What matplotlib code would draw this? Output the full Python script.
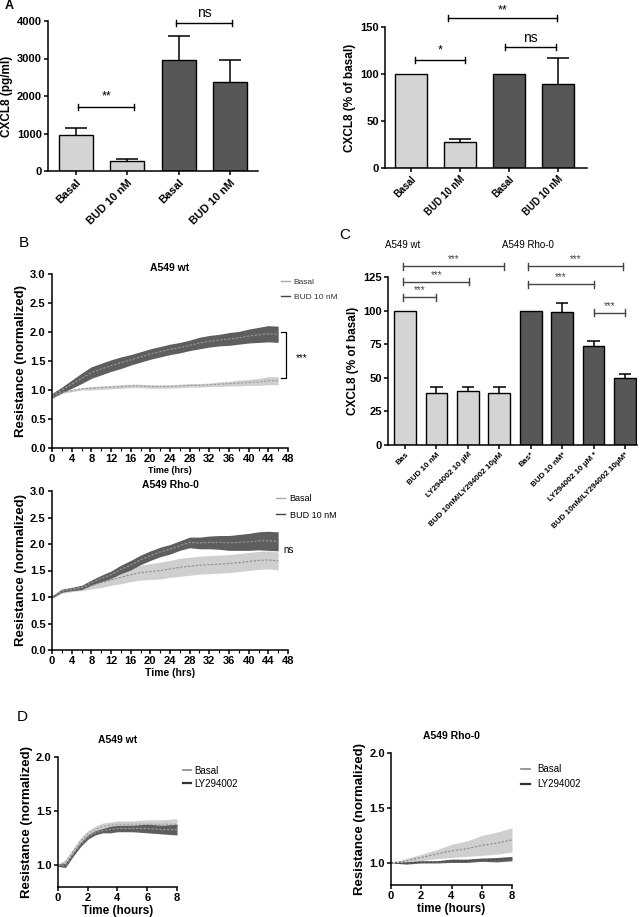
import numpy as np
import matplotlib
matplotlib.use("Agg")
import matplotlib.pyplot as plt
from matplotlib.lines import Line2D

plt.rcParams['font.family'] = ['Liberation Sans', 'DejaVu Sans']

# ---------------- DATA ----------------
# Panel A (left): CXCL8 pg/ml
a1_labels = ["Basal", "BUD 10 nM", "Basal", "BUD 10 nM"]
a1_values = [950, 270, 2950, 2380]
a1_err = [200, 60, 650, 570]
# Panel A (right): % of basal
a2_labels = ["Basal", "BUD 10 nM", "Basal", "BUD 10 nM"]
a2_values = [100, 28, 100, 89]
a2_err = [0, 3, 0, 28]

# Panel C
c_labels = ["Bas", "BUD 10 nM", "LY294002 10 \u00b5M", "BUD 10nM/LY294002 10\u00b5M",
            "Bas*", "BUD 10 nM*", "LY294002 10 \u00b5M *", "BUD 10nM/LY294002 10\u00b5M*"]
c_values = [100, 39, 40, 39, 100, 99, 74, 50]
c_err = [0, 4, 3, 4, 0, 7, 3.5, 3]

# Panel B (time in hours)
b_time = [0, 2, 4, 6, 8, 10, 12, 14, 16, 18, 20, 22, 24, 26, 28, 30, 32, 34, 36, 38, 40, 42, 44, 46]
b_wt_bud = [0.90, 1.00, 1.10, 1.20, 1.30, 1.36, 1.42, 1.47, 1.52, 1.57, 1.62, 1.66, 1.70, 1.73,
            1.77, 1.81, 1.84, 1.86, 1.88, 1.90, 1.93, 1.95, 1.97, 1.96]
b_wt_bud_sem = [0.04, 0.05, 0.07, 0.09, 0.10, 0.10, 0.10, 0.10, 0.09, 0.09, 0.09, 0.09, 0.09, 0.09,
                0.09, 0.10, 0.10, 0.10, 0.11, 0.11, 0.12, 0.13, 0.14, 0.14]
b_wt_bas = [0.88, 0.96, 0.99, 1.02, 1.03, 1.04, 1.05, 1.06, 1.07, 1.07, 1.06, 1.06, 1.06, 1.07,
            1.08, 1.08, 1.09, 1.10, 1.11, 1.12, 1.13, 1.14, 1.16, 1.16]
b_wt_bas_sem = [0.02, 0.02, 0.02, 0.02, 0.03, 0.03, 0.03, 0.03, 0.03, 0.03, 0.03, 0.03, 0.03, 0.03,
                0.03, 0.03, 0.03, 0.04, 0.04, 0.05, 0.05, 0.06, 0.07, 0.07]
b_rho_bud = [1.00, 1.12, 1.15, 1.18, 1.27, 1.35, 1.42, 1.52, 1.60, 1.70, 1.78, 1.85, 1.90, 1.97,
             2.03, 2.02, 2.03, 2.03, 2.02, 2.03, 2.04, 2.06, 2.06, 2.05]
b_rho_bud_sem = [0.02, 0.03, 0.03, 0.04, 0.05, 0.06, 0.07, 0.08, 0.09, 0.09, 0.09, 0.09, 0.09, 0.09,
                 0.10, 0.11, 0.12, 0.13, 0.14, 0.15, 0.16, 0.17, 0.18, 0.18]
b_rho_bas = [1.00, 1.10, 1.14, 1.17, 1.22, 1.27, 1.32, 1.37, 1.42, 1.46, 1.48, 1.50, 1.53, 1.56,
             1.58, 1.60, 1.61, 1.62, 1.63, 1.65, 1.67, 1.69, 1.70, 1.68]
b_rho_bas_sem = [0.02, 0.03, 0.04, 0.05, 0.07, 0.09, 0.10, 0.12, 0.13, 0.14, 0.15, 0.16, 0.16, 0.17,
                 0.17, 0.17, 0.17, 0.17, 0.17, 0.17, 0.17, 0.17, 0.17, 0.17]

# Panel D (time in hours)
d_wt_time = [0, 0.5, 1, 1.5, 2, 2.5, 3, 3.5, 4, 5, 6, 7, 8]
d_wt_bas = [1.00, 1.03, 1.13, 1.22, 1.29, 1.33, 1.36, 1.37, 1.38, 1.38, 1.38, 1.38, 1.38]
d_wt_bas_sem = [0.01, 0.02, 0.02, 0.03, 0.03, 0.03, 0.03, 0.03, 0.03, 0.03, 0.04, 0.04, 0.05]
d_wt_ly = [1.00, 1.00, 1.10, 1.19, 1.26, 1.30, 1.32, 1.33, 1.34, 1.34, 1.34, 1.33, 1.33]
d_wt_ly_sem = [0.01, 0.02, 0.02, 0.02, 0.02, 0.02, 0.02, 0.03, 0.03, 0.03, 0.04, 0.04, 0.05]
d_rho_time = [0, 1, 2, 3, 4, 5, 6, 7, 8]
d_rho_bas = [1.00, 1.02, 1.05, 1.08, 1.11, 1.13, 1.16, 1.18, 1.21]
d_rho_bas_sem = [0.00, 0.02, 0.03, 0.04, 0.06, 0.07, 0.09, 0.10, 0.11]
d_rho_ly = [1.00, 1.00, 1.01, 1.01, 1.02, 1.02, 1.03, 1.03, 1.04]
d_rho_ly_sem = [0.00, 0.01, 0.01, 0.01, 0.015, 0.015, 0.015, 0.02, 0.02]

LIGHT = "#d4d4d4"
DARK = "#575757"
BAND_LIGHT = "#cfcfcf"
BAND_DARK = "#5e5e5e"

W, H = 642, 917
fig = plt.figure(figsize=(W / 100, H / 100), dpi=100)


def add_ax(l, t, r, b):
    return fig.add_axes([l / W, 1 - b / H, (r - l) / W, (b - t) / H])


def prism(ax, lw=1.1):
    for s in ["top", "right"]:
        ax.spines[s].set_visible(False)
    for s in ["left", "bottom"]:
        ax.spines[s].set_linewidth(lw)
    ax.tick_params(direction="out", width=lw, length=3, pad=1.5)


def bracket(ax, x1, x2, y, d, text, fs=8, color="black", tcolor="black", dy=0):
    ax.plot([x1, x2], [y, y], color=color, lw=1, clip_on=False)
    for x in (x1, x2):
        ax.plot([x, x], [y - d, y + d], color=color, lw=1, clip_on=False)
    ax.text((x1 + x2) / 2, y + d + dy, text, ha="center", va="bottom", fontsize=fs,
            color=tcolor, clip_on=False)


def bars(ax, values, err, colors, width, capw):
    x = np.arange(len(values))
    v = np.asarray(values, float)
    e = np.asarray(err, float)
    ax.bar(x, v, width=width, color=colors, edgecolor="black", linewidth=1, zorder=2)
    m = e > 0
    ax.vlines(x[m], v[m], v[m] + e[m], color="black", lw=1.1, zorder=1)
    ax.hlines(v[m] + e[m], x[m] - capw / 2, x[m] + capw / 2, color="black", lw=1.1, zorder=1)
    return x


# ---------------- Panel A left ----------------
ax = add_ax(48, 21, 258, 171)
prism(ax)
x = bars(ax, a1_values, a1_err, [LIGHT, LIGHT, DARK, DARK], 0.66, 0.42)
ax.set_xlim(-0.54, 3.54)
ax.set_ylim(0, 4000)
ax.set_yticks([0, 1000, 2000, 3000, 4000])
ax.set_xticks(x)
ax.set_xticklabels(a1_labels, rotation=45, ha="right", rotation_mode="anchor", fontsize=8,
                   fontweight="bold")
for t in ax.get_yticklabels():
    t.set_fontweight("bold"); t.set_fontsize(8)
ax.set_ylabel("CXCL8 (pg/ml)", fontsize=8.5, fontweight="bold", labelpad=3)
bracket(ax, 0.05, 1.13, 1700, 80, "**", fs=9, dy=60)
bracket(ax, 1.94, 3.04, 3950, 80, "ns", fs=10, dy=0)
fig.text(5 / W, 1 - 6 / H, "A", fontsize=9, fontweight="bold", va="center", ha="left")

# ---------------- Panel A right ----------------
ax = add_ax(385, 27, 587, 168)
prism(ax)
x = bars(ax, a2_values, a2_err, [LIGHT, LIGHT, DARK, DARK], 0.67, 0.45)
ax.set_xlim(-0.53, 3.59)
ax.set_ylim(0, 150)
ax.set_yticks([0, 50, 100, 150])
ax.set_xticks(x)
ax.set_xticklabels(a2_labels, rotation=45, ha="right", rotation_mode="anchor", fontsize=7,
                   fontweight="bold")
for t in ax.get_yticklabels():
    t.set_fontweight("bold"); t.set_fontsize(8)
ax.set_ylabel("CXCL8 (% of basal)", fontsize=8.5, fontweight="bold", labelpad=3)
bracket(ax, 0.08, 1.1, 115, 3, "*", fs=9, dy=1)
bracket(ax, 1.92, 2.96, 128.5, 3, "ns", fs=10, dy=-1)
bracket(ax, 0.76, 2.98, 159.5, 3, "**", fs=9, dy=-1)

# ---------------- Panel B ----------------
def band(ax, t, m, s, fc, lc):
    t = np.asarray(t); m = np.asarray(m); s = np.asarray(s)
    ax.fill_between(t, m - s, m + s, color=fc, lw=0, zorder=1)
    ax.plot(t, m, color=lc, lw=0.8, ls=(0, (2, 1.5)), zorder=2)


def b_axes(top, bottom, title, xfs):
    ax = add_ax(52, top, 288, bottom)
    prism(ax)
    ax.set_xlim(0, 48)
    ax.set_ylim(0, 3.0)
    ax.set_xticks(np.arange(0, 49, 4))
    ax.set_xticks(np.arange(0, 49, 2), minor=True)
    ax.tick_params(which="minor", length=2, width=0.8)
    ax.set_yticks(np.arange(0, 3.01, 0.5))
    ax.set_yticklabels(["%.1f" % v for v in np.arange(0, 3.01, 0.5)])
    for t in ax.get_xticklabels() + ax.get_yticklabels():
        t.set_fontweight("bold"); t.set_fontsize(8)
    ax.set_ylabel("Resistance (normalized)", fontsize=9.5, fontweight="bold", labelpad=2)
    ax.set_xlabel("Time (hrs)", fontsize=xfs, fontweight="bold", labelpad=1)
    ax.set_title(title, fontsize=7.5, fontweight="bold", pad=2)
    return ax


ax = b_axes(274, 448, "A549 wt", 6.5)
band(ax, b_time, b_wt_bas, b_wt_bas_sem, BAND_LIGHT, "#9a9a9a")
band(ax, b_time, b_wt_bud, b_wt_bud_sem, BAND_DARK, "#9a9a9a")
h = [Line2D([], [], color="#aaaaaa", lw=1), Line2D([], [], color="#444444", lw=1)]
ax.legend(h, ["Basal", "BUD 10 nM"], loc="upper left", bbox_to_anchor=(0.94, 1.02),
          frameon=False, fontsize=6, handlelength=1.0, handletextpad=0.5, labelspacing=0.9,
          labelcolor="#333333")
ax.plot([46.5, 47.5, 47.5, 46.5], [2.0, 2.0, 1.2, 1.2], color="black", lw=0.9, clip_on=False)
ax.text(49.5, 1.55, "***", fontsize=7, va="center", ha="left")
fig.text(19 / W, 1 - 243 / H, "B", fontsize=11, va="center", ha="left")

ax = b_axes(491, 650, "A549 Rho-0", 7.5)
band(ax, b_time, b_rho_bas, b_rho_bas_sem, BAND_LIGHT, "#8a8a8a")
band(ax, b_time, b_rho_bud, b_rho_bud_sem, BAND_DARK, "#9a9a9a")
ax.legend(h, ["Basal", "BUD 10 nM"], loc="upper left", bbox_to_anchor=(0.915, 1.03),
          frameon=False, fontsize=6.5, handlelength=1.0, handletextpad=0.5, labelspacing=0.8)
ax.text(47.0, 1.88, "ns", fontsize=7, va="center", ha="left")

# ---------------- Panel C ----------------
ax = add_ax(388, 277, 637, 445)
prism(ax)
x = bars(ax, c_values, c_err, [LIGHT] * 4 + [DARK] * 4, 0.69, 0.4)
ax.set_xlim(-0.54, 7.38)
ax.set_ylim(0, 125)
ax.set_yticks([0, 25, 50, 75, 100, 125])
ax.set_xticks(x)
ax.set_xticklabels(c_labels, rotation=45, ha="right", rotation_mode="anchor", fontsize=5.8,
                   fontweight="bold")
for t in ax.get_yticklabels():
    t.set_fontweight("bold"); t.set_fontsize(8)
ax.set_ylabel("CXCL8 (% of basal)", fontsize=8.5, fontweight="bold", labelpad=3)
sc = "#444444"
bracket(ax, -0.05, 1.0, 110, 2.5, "***", fs=7, color=sc, tcolor=sc, dy=-1)
bracket(ax, -0.05, 2.05, 121.5, 2.5, "***", fs=7, color=sc, tcolor=sc, dy=-1)
bracket(ax, -0.05, 3.15, 133, 2.5, "***", fs=7, color=sc, tcolor=sc, dy=-1)
bracket(ax, 3.9, 6.95, 133, 2.5, "***", fs=7, color=sc, tcolor=sc, dy=-1)
bracket(ax, 3.9, 6.0, 119.5, 2.5, "***", fs=7, color=sc, tcolor=sc, dy=-1)
bracket(ax, 6.0, 7.0, 98.5, 2.5, "***", fs=7, color=sc, tcolor=sc, dy=-1)
fig.text(403 / W, 1 - 245 / H, "A549 wt", fontsize=7, ha="center", va="center")
fig.text(528 / W, 1 - 245 / H, "A549 Rho-0", fontsize=7, ha="center", va="center")
fig.text(345 / W, 1 - 235 / H, "C", fontsize=11, va="center", ha="center")

# ---------------- Panel D ----------------
def d_axes(l, t, r, b, title, xlabel):
    ax = add_ax(l, t, r, b)
    prism(ax)
    ax.set_xlim(0, 8)
    ax.set_ylim(0.8, 2.0)
    ax.set_xticks([0, 2, 4, 6, 8])
    ax.set_yticks([1.0, 1.5, 2.0])
    ax.set_yticklabels(["1.0", "1.5", "2.0"])
    for tl in ax.get_xticklabels() + ax.get_yticklabels():
        tl.set_fontweight("bold"); tl.set_fontsize(8)
    ax.set_ylabel("Resistance (normalized)", fontsize=9.5, fontweight="bold", labelpad=2)
    ax.set_xlabel(xlabel, fontsize=8.5, fontweight="bold", labelpad=1)
    ax.set_title(title, fontsize=7.5, fontweight="bold", pad=10)
    return ax


ax = d_axes(58, 757, 177, 887, "A549 wt", "Time (hours)")
band(ax, d_wt_time, d_wt_bas, d_wt_bas_sem, BAND_LIGHT, "#9a9a9a")
band(ax, d_wt_time, d_wt_ly, d_wt_ly_sem, BAND_DARK, "#9a9a9a")
hd = [Line2D([], [], color="#888888", lw=1.2), Line2D([], [], color="#333333", lw=1.6)]
ax.legend(hd, ["Basal", "LY294002"], loc="upper left", bbox_to_anchor=(0.98, 1.0),
          frameon=False, fontsize=7, handlelength=0.8, handletextpad=0.3, labelspacing=0.3)
fig.text(22 / W, 1 - 717 / H, "D", fontsize=11, va="center", ha="center")

ax = d_axes(391, 753, 512, 885, "A549 Rho-0", "time (hours)")
band(ax, d_rho_time, d_rho_bas, d_rho_bas_sem, BAND_LIGHT, "#888888")
band(ax, d_rho_time, d_rho_ly, d_rho_ly_sem, BAND_DARK, "#444444")
ax.legend(hd, ["Basal", "LY294002"], loc="upper left", bbox_to_anchor=(1.0, 0.98),
          frameon=False, fontsize=7, handlelength=1.0, handletextpad=0.7, labelspacing=0.5)

fig.savefig("out.png", dpi=100)
